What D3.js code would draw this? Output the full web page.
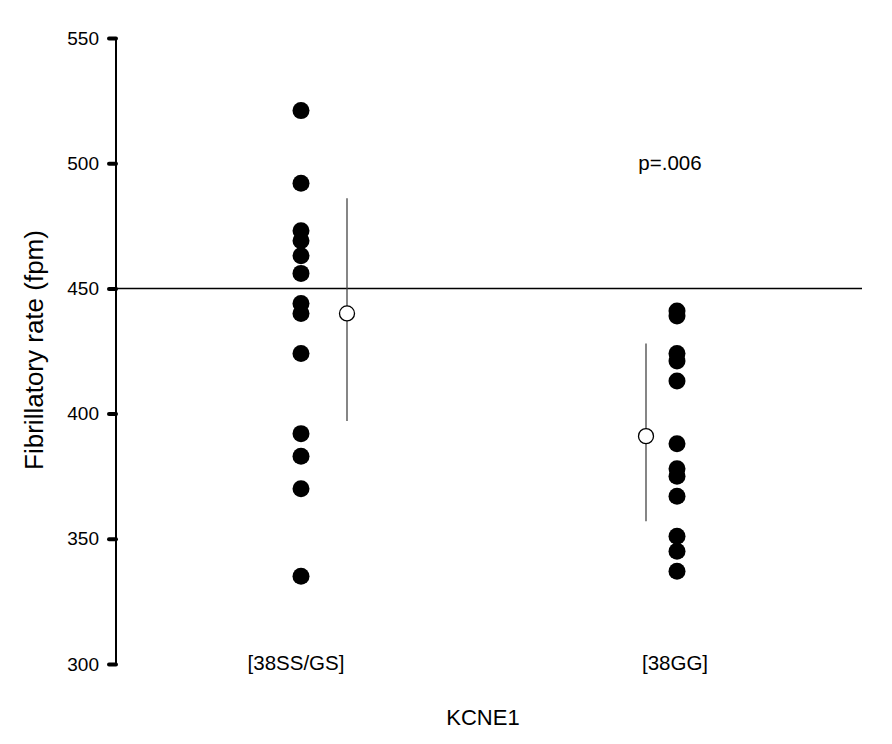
<!DOCTYPE html>
<html>
<head>
<meta charset="utf-8">
<script src="https://cdn.jsdelivr.net/npm/d3@7"></script>
<style>
  body { margin: 0; background: #fff; }
  svg { font-family: "Liberation Sans", Arial, sans-serif; }
</style>
</head>
<body>
<div id="container"></div>
<script>
const width = 892;
const height = 744;

// data
const categories = ["[38SS/GS]", "[38GG]"];
const ssgsRates = [521, 492, 473, 469, 463, 456, 444, 440, 424, 392, 383, 370, 335];
const ggRates = [441, 439, 424, 421, 413, 388, 378, 375, 367, 351, 345, 337];
const means = [440, 391];
const barLow = [397, 357];
const barHigh = [486, 428];
const yTicks = [300, 350, 400, 450, 500, 550];
const refLine = 450;
const pLabel = "p=.006";

const groups = [ssgsRates, ggRates];

const y = d3.scaleLinear().domain([300, 550]).range([664, 38]);
const x = d3.scalePoint().domain(categories).range([301, 677]);
const meanShift = [46, -31];

const svg = d3.select("div#container")
    .append("svg")
    .attr("width", width)
    .attr("height", height)
    .attr("viewBox", [0, 0, width, height]);

// y axis
const yAxis = svg.append("g")
    .attr("transform", "translate(116,0)")
    .call(d3.axisLeft(y).tickValues(yTicks).tickSize(7).tickPadding(10).tickFormat(d3.format("d")));
yAxis.select(".domain").attr("stroke", "#000").attr("stroke-width", 2).attr("d", `M0,${y(300)}V${y(550)}`);
yAxis.selectAll(".tick line").attr("stroke", "#000").attr("stroke-width", 4).attr("stroke-linecap", "round");
yAxis.selectAll(".tick text")
    .attr("font-size", 19)
    .attr("fill", "#000")
    .attr("font-family", "Liberation Sans, Arial, sans-serif");

// reference line
svg.append("line")
    .attr("x1", 116).attr("x2", 862)
    .attr("y1", y(refLine)).attr("y2", y(refLine))
    .attr("stroke", "#000").attr("stroke-width", 1.5);

// dots
groups.forEach((vals, i) => {
    svg.append("g")
        .selectAll("circle")
        .data(vals)
        .join("circle")
        .attr("cx", x(categories[i]))
        .attr("cy", d => y(d))
        .attr("r", 8.5)
        .attr("fill", "#000");
});

// mean and error bars
categories.forEach((c, i) => {
    const mx = x(c) + meanShift[i];
    svg.append("line")
        .attr("x1", mx).attr("x2", mx)
        .attr("y1", y(barHigh[i])).attr("y2", y(barLow[i]))
        .attr("stroke", "#444").attr("stroke-width", 1.3);
    svg.append("circle")
        .attr("cx", mx).attr("cy", y(means[i]))
        .attr("r", 7.5)
        .attr("fill", "#fff")
        .attr("stroke", "#000")
        .attr("stroke-width", 1.3);
});

// category labels
svg.append("g")
    .selectAll("text")
    .data(categories)
    .join("text")
    .attr("x", (d, i) => x(d) - (i === 0 ? 5 : 2))
    .attr("y", 670)
    .attr("text-anchor", "middle")
    .attr("font-size", 20.5)
    .text(d => d);

svg.append("text")
    .attr("x", 670)
    .attr("y", 170)
    .attr("text-anchor", "middle")
    .attr("font-size", 20.5)
    .text(pLabel);

// axis titles
svg.append("text")
    .attr("x", 483)
    .attr("y", 725)
    .attr("text-anchor", "middle")
    .attr("font-size", 22)
    .text("KCNE1");

svg.append("text")
    .attr("transform", "translate(43,350) rotate(-90)")
    .attr("text-anchor", "middle")
    .attr("font-size", 26)
    .text("Fibrillatory rate (fpm)");
</script>
</body>
</html>
